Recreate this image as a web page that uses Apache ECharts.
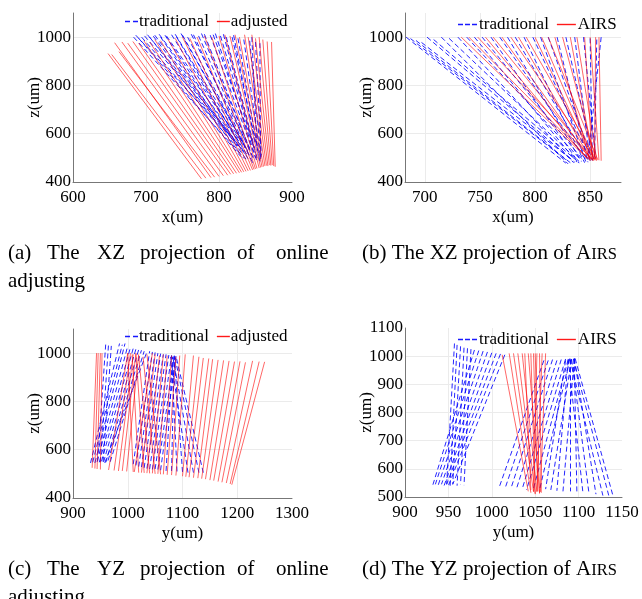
<!DOCTYPE html>
<html>
<head>
<meta charset="utf-8">
<script src="https://cdn.jsdelivr.net/npm/echarts@6/dist/echarts.min.js"></script>
<style>
html, body { margin: 0; padding: 0; background: #fff; }
#main { width: 642px; height: 599px; }
</style>
</head>
<body>
<div id="main"></div>
<script>
// every segment is [start horizontal, start z, end horizontal, end z] in um

// (a) XZ, online adjusting
const xzTraditional = [
  [683,1000,828,520],[690,995,830,505],[698,1005,833,530],[705,1000,834,498],[712,1008,836,515],
  [720,1000,838,490],[728,1005,836,540],[735,1010,840,505],[742,1000,842,485],[750,1008,840,525],
  [757,1000,844,495],[765,1010,846,480],[772,1005,845,510],[780,1012,848,490],[788,1008,850,500],
  [795,1015,852,485],[802,1005,850,520],[810,1000,853,490],[818,1000,855,505],[826,995,856,485],
  [834,990,857,500],[842,985,858,490],[850,980,858,510],[856,975,857,495],
  [686,1008,815,590],[694,1000,820,560],[702,1010,822,575],[710,1004,826,548],[718,1012,828,565],
  [726,1008,830,535],[740,1012,832,560],[748,1015,836,545],[762,1012,838,560],[776,1015,842,540],
  [792,1010,846,560],[806,1012,848,540],[820,1008,850,555],[845,1000,852,540]
]
const xzAdjusted = [
  [648,932,776,413],[653,928,782,416],[657,977,789,418],[663,940,794,420],[667,980,800,423],
  [675,975,806,426],[682,982,812,428],[690,975,816,432],[697,985,820,434],[705,980,824,436],
  [712,990,828,438],[720,985,831,440],[730,992,834,442],[740,995,837,444],[750,1000,840,446],
  [760,995,843,448],[770,1000,846,450],[780,1005,848,452],[790,1000,850,454],[800,1005,852,456],
  [808,1010,855,458],[815,1005,857,460],[822,1010,859,462],[828,1000,861,464],[835,1010,863,466],
  [840,1000,865,468],[845,1010,867,466],[850,995,869,470],[855,1000,871,468],[860,990,873,470],
  [866,982,875,466],[872,980,877,463]
]

// (b) XZ, AIRS
const xzTraditionalB = [
  [683,1000,828,478],[687,994,830,485],[692,986,832,480],[697,978,834,490],[702,1000,836,482],
  [708,990,838,488],[715,1000,830,475],[722,995,840,485],[730,1000,835,480],[738,1000,842,490],
  [745,1000,838,482],[752,1000,844,488],[760,1000,840,478],[768,1000,846,492],[775,1000,842,485],
  [782,1000,848,490],[790,1000,845,480],[798,1000,850,495],[805,1000,846,485],[812,1000,852,490],
  [820,1000,848,482],[828,1000,853,495],[836,1000,850,488],[844,1000,855,500],[850,995,852,490],
  [856,990,854,498],[860,1000,848,492]
]
const xzAirs = [
  [733,1000,848,495],[740,1000,850,490],[748,1000,852,492],[755,1000,847,498],[762,1000,853,488],
  [770,1000,850,495],[778,1000,855,490],[785,1000,851,492],[792,1000,856,488],[800,1000,852,495],
  [806,1000,854,490],[812,1000,857,492],[818,1000,850,488],[825,1000,855,495],[832,1000,853,490],
  [838,1000,856,492],[845,1000,852,488],[850,1000,858,490],[855,1000,854,495],[858,1000,860,488]
]

// (c) YZ, online adjusting
const yzTraditional = [
  [932,545,985,1040],[936,548,990,1035],[940,545,995,1040],[944,550,1000,1030],[948,548,1005,1025],
  [952,552,1010,1020],[956,550,1015,1018],[960,548,1020,1015],[964,555,1025,1012],[968,550,1030,1008],
  [945,552,960,1045],[950,548,965,1040],[955,550,970,1030],[958,545,1035,1005],
  [1010,540,1040,1008],[1015,535,1045,1005],[1020,530,1050,1003],[1025,528,1055,1000],[1030,525,1060,998],
  [1035,522,1065,995],[1040,520,1070,995],[1045,518,1075,992],[1050,520,1080,990],[1055,518,1085,990],
  [1060,515,1088,988],[1070,512,1082,985],[1080,512,1085,988],[1090,510,1080,990],[1100,508,1085,985],
  [1110,505,1078,988],[1120,505,1082,990],[1130,505,1086,985],[1138,505,1088,988]
]
const yzAdjusted = [
  [935,525,943,1000],[940,522,946,1000],[944,520,950,1000],[950,518,953,1000],
  [965,516,1000,1000],[975,514,1005,1000],[983,512,1010,995],[990,512,1015,1000],[998,510,1020,995],
  [1010,508,1000,1000],[1020,505,1008,995],[1030,504,1015,998],[1040,502,1020,990],[1050,500,1028,985],
  [1060,498,1035,995],
  [1012,508,1045,1000],[1025,505,1050,995],[1035,503,1058,990],[1045,502,1065,995],[1055,500,1072,990],
  [1065,498,1080,990],[1072,496,1088,985],[1080,495,1095,990],[1088,493,1105,995],
  [1100,490,1120,990],[1106,488,1130,985],[1112,486,1138,980],[1120,484,1148,978],[1128,482,1155,975],
  [1135,480,1165,972],[1142,478,1175,970],[1150,474,1185,968],[1157,472,1195,965],[1165,468,1205,966],
  [1172,465,1215,962],[1180,462,1228,968],[1187,458,1240,965],[1190,455,1250,964]
]

// (d) YZ, AIRS
const yzTraditionalD = [
  [957,1045,948,545],[960,1040,952,540],[964,1035,955,545],[968,1030,960,540],[972,1028,964,545],
  [976,1025,968,542],
  [980,1022,932,542],[985,1020,935,545],[990,1018,938,540],[995,1015,942,545],[1000,1012,945,540],
  [1005,1010,948,545],[1010,1008,950,540],[1015,1005,955,545],
  [1060,985,1008,530],[1065,985,1015,528],[1070,988,1022,530],[1075,985,1028,525],[1080,988,1035,528],
  [1085,990,1040,525],[1088,988,1048,530],[1090,992,1055,525],[1085,985,1062,528],[1092,990,1068,525],
  [1088,985,1075,522],[1095,990,1082,520],[1090,988,1090,520],[1095,992,1098,518],[1088,990,1105,515],
  [1092,988,1112,512],[1095,992,1120,510],[1090,990,1128,505],[1094,990,1135,502],[1096,992,1140,500]
]
const yzAirs = [
  [1012,1005,1042,520],[1020,1010,1045,515],[1025,1010,1048,520],[1030,1010,1050,512],[1035,1010,1052,518],
  [1038,1010,1045,525],[1042,1010,1055,515],[1045,1010,1050,510],[1048,1010,1053,520],[1050,1010,1055,512],
  [1052,1010,1048,518],[1055,1010,1057,515],[1058,1010,1052,520],[1062,1010,1056,518]
]

const FONT = '"Liberation Serif", "Times New Roman", serif'
const BLUE = '#0000ff'
const RED = '#ff0000'

function segs (list) {
  return list.map(s => ({ coords: [[s[0], s[1]], [s[2], s[3]]] }))
}

function seg (name, list, idx, color, dashed) {
  return {
    type: 'lines',
    name: name,
    coordinateSystem: 'cartesian2d',
    xAxisIndex: idx,
    yAxisIndex: idx,
    silent: true,
    z: dashed ? 2 : 3,
    lineStyle: {
      color: color,
      width: dashed ? 1 : 0.8,
      opacity: dashed ? 0.85 : 0.75,
      type: dashed ? [5, 3] : 'solid',
      curveness: 0
    },
    data: segs(list)
  }
}

function xAx (idx, name, min, max, step) {
  return {
    gridIndex: idx, type: 'value', min: min, max: max, interval: step,
    name: name, nameLocation: 'middle', nameGap: 27, nameMoveOverlap: false,
    nameTextStyle: { fontFamily: FONT, fontSize: 17, color: '#000' },
    axisLine: { show: true, onZero: false, lineStyle: { color: '#777', width: 1 } },
    axisTick: { show: false },
    axisLabel: { fontFamily: FONT, fontSize: 17, color: '#000', margin: 7,
      formatter: v => (v % 50 === 0 ? String(v) : '') },
    splitLine: { show: true, showMinLine: false, showMaxLine: false, lineStyle: { color: '#ebebeb', width: 1 } }
  }
}

function yAx (idx, min, max, step) {
  return {
    gridIndex: idx, type: 'value', min: min, max: max, interval: step,
    name: 'z(um)', nameLocation: 'middle', nameGap: 30, nameMoveOverlap: false,
    nameTextStyle: { fontFamily: FONT, fontSize: 17, color: '#000' },
    axisLine: { show: true, onZero: false, lineStyle: { color: '#777', width: 1 } },
    axisTick: { show: false },
    axisLabel: { fontFamily: FONT, fontSize: 17, color: '#000', margin: 2,
      formatter: v => (v % step === 0 ? String(v) : '') },
    splitLine: { show: true, showMinLine: false, showMaxLine: false, lineStyle: { color: '#ebebeb', width: 1 } }
  }
}

const dash2 = 'path://M0,0h5v1h-5zM8,0h5v1h-5z'
const dash3 = 'path://M0,0h5v1h-5zM7,0h5v1h-5zM14,0h5v1h-5z'
const solid = 'path://M0,0h10v1h-10z'

function leg (left, top, other, dashIcon, w, gap, shift) {
  return {
    left: left, top: top, padding: 0, orient: 'horizontal',
    itemWidth: w, itemHeight: 1.4, itemGap: gap, selectedMode: false,
    symbolKeepAspect: false,
    textStyle: { fontFamily: FONT, fontSize: 17, color: '#000', padding: [0, 0, 0, shift] },
    data: [
      { name: 'traditional', icon: dashIcon, itemStyle: { color: BLUE, opacity: 0.9, borderWidth: 0 } },
      { name: other, icon: solid, itemStyle: { color: RED, opacity: 0.9, borderWidth: 0 } }
    ]
  }
}

function word (t, x, y) {
  return { type: 'text', x: x, y: y, style: { text: t, fontFamily: FONT, fontSize: 21, fill: '#000', verticalAlign: 'middle' } }
}

function airsCaption (t, x, y) {
  return {
    type: 'text', x: x, y: y,
    style: {
      text: '{n|' + t + ' A}{s|IRS}', fill: '#000', verticalAlign: 'middle',
      rich: {
        n: { fontFamily: FONT, fontSize: 21, fill: '#000' },
        s: { fontFamily: FONT, fontSize: 16.5, fill: '#000', verticalAlign: 'bottom' }
      }
    }
  }
}

const wordsX = [8, 47, 97, 140, 237, 276]
const capA = ['(a)', 'The', 'XZ', 'projection', 'of', 'online']
const capC = ['(c)', 'The', 'YZ', 'projection', 'of', 'online']

const graphics = []
capA.forEach((t, i) => graphics.push(word(t, wordsX[i], 253)))
graphics.push(word('adjusting', 8, 281))
graphics.push(airsCaption('(b) The XZ projection of', 362, 253))
capC.forEach((t, i) => graphics.push(word(t, wordsX[i], 569)))
graphics.push(word('adjusting', 8, 597))
graphics.push(airsCaption('(d) The YZ projection of', 362, 569))

const chart = echarts.init(document.getElementById('main'))
chart.setOption({
  animation: false,
  backgroundColor: '#fff',
  grid: [
    { left: 73, top: 13, width: 219, height: 169 },
    { left: 405, top: 13, width: 216, height: 169 },
    { left: 73, top: 329, width: 219, height: 169 },
    { left: 405, top: 328, width: 217, height: 169 }
  ],
  xAxis: [
    xAx(0, 'x(um)', 600, 900, 100),
    Object.assign(xAx(1, 'x(um)', 682, 878, null), { interval: undefined, splitNumber: 4 }),
    xAx(2, 'y(um)', 900, 1300, 100),
    xAx(3, 'y(um)', 900, 1150, 50)
  ],
  yAxis: [
    yAx(0, 400, 1100, 200),
    yAx(1, 400, 1100, 200),
    yAx(2, 400, 1100, 200),
    yAx(3, 500, 1100, 100)
  ],
  legend: [
    leg(125, 13, 'adjusted', dash2, 13, 8, -4),
    leg(458, 16, 'AIRS', dash3, 19, 8, -3),
    leg(125, 328, 'adjusted', dash2, 13, 8, -4),
    leg(458, 331, 'AIRS', dash3, 19, 8, -3)
  ],
  graphic: graphics,
  series: [
    seg('traditional', xzTraditional, 0, BLUE, true),
    seg('adjusted', xzAdjusted, 0, RED, false),
    seg('traditional', xzTraditionalB, 1, BLUE, true),
    seg('AIRS', xzAirs, 1, RED, false),
    seg('traditional', yzTraditional, 2, BLUE, true),
    seg('adjusted', yzAdjusted, 2, RED, false),
    seg('traditional', yzTraditionalD, 3, BLUE, true),
    seg('AIRS', yzAirs, 3, RED, false)
  ]
})
</script>
</body>
</html>
